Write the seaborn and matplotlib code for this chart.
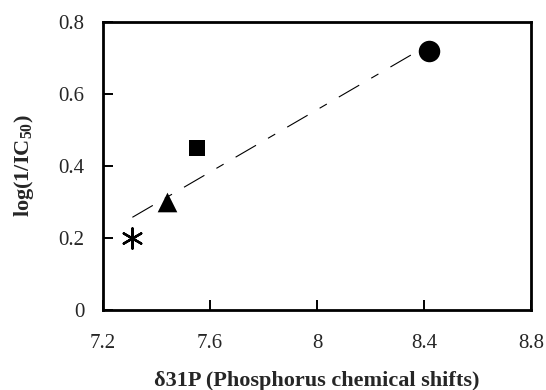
import matplotlib
matplotlib.use("Agg")
import matplotlib.pyplot as plt
import seaborn as sns
import pandas as pd

# Phosphorus chemical shift vs. activity for the four compounds
compounds = ["A", "B", "C", "D"]
shifts = [7.31, 7.44, 7.55, 8.42]
activity = [0.20, 0.30, 0.45, 0.72]
marker_shapes = [(6, 2, 0), "^", "s", "o"]
marker_sizes = [210, 200, 120, 240]

x_ticks = [7.2, 7.6, 8.0, 8.4, 8.8]
x_tick_labels = ["7.2", "7.6", "8", "8.4", "8.8"]
y_ticks = [0, 0.2, 0.4, 0.6, 0.8]
y_tick_labels = ["0", "0.2", "0.4", "0.6", "0.8"]

df = pd.DataFrame({"compound": compounds, "shift": shifts, "activity": activity})

sns.set_style("white", {"xtick.bottom": True, "ytick.left": True,
                        "xtick.direction": "in", "ytick.direction": "in"})
plt.rcParams["font.family"] = ["Liberation Serif", "DejaVu Serif"]
plt.rcParams["mathtext.fontset"] = "custom"
plt.rcParams["mathtext.rm"] = "Liberation Serif"
plt.rcParams["mathtext.bf"] = "Liberation Serif:bold"
plt.rcParams["lines.scale_dashes"] = False

fig = plt.figure(figsize=(5.46, 3.9), dpi=100)
ax = fig.add_axes([0.1886, 0.205, 0.7839, 0.739])

# linear trend through all points
sns.regplot(data=df, x="shift", y="activity", ax=ax, scatter=False, ci=None,
            truncate=True,
            line_kws=dict(color="black", lw=0.8, dashes=(17, 10, 6, 10)))

for i, row in df.iterrows():
    m = marker_shapes[i]
    if isinstance(m, tuple):
        sns.scatterplot(x=[row["shift"]], y=[row["activity"]], ax=ax, marker=m,
                        s=marker_sizes[i], color="black", linewidth=1.7, zorder=3)
    else:
        sns.scatterplot(x=[row["shift"]], y=[row["activity"]], ax=ax, marker=m,
                        s=marker_sizes[i], color="black", edgecolor="black",
                        linewidth=0, zorder=3)

ax.set_xlim(7.2, 8.8)
ax.set_ylim(0, 0.8)
ax.set_xticks(x_ticks)
ax.set_xticklabels(x_tick_labels)
ax.set_yticks(y_ticks)
ax.set_yticklabels(y_tick_labels)
ax.tick_params(axis="x", which="major", bottom=True, top=False, direction="in",
               length=7, width=1.4, labelsize=15, color="black", pad=17)
ax.tick_params(axis="y", which="major", left=True, right=False, direction="in",
               length=7, width=1.4, labelsize=15, color="black", pad=13.5)

for sp in ax.spines.values():
    sp.set_visible(True)
    sp.set_color("black")
    sp.set_linewidth(2)

ax.set_xlabel("δ31P (Phosphorus chemical shifts)", fontsize=16, fontweight="bold",
              labelpad=13)
ax.set_ylabel("log(1/IC$_{\\mathbf{50}}$)", fontsize=16, fontweight="bold",
              labelpad=16)

fig.savefig("out.png", dpi=100, facecolor="white")
